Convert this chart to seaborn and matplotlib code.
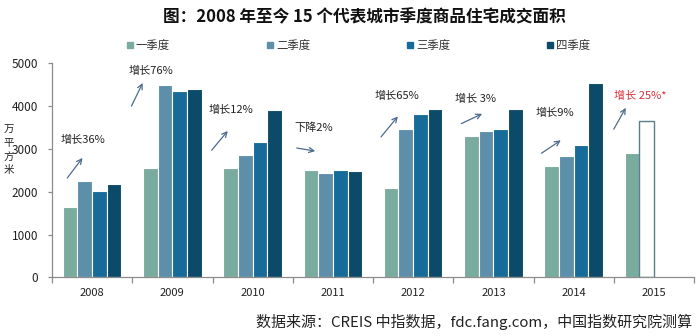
import numpy as np
import pandas as pd
import matplotlib
matplotlib.use("Agg")
import matplotlib.pyplot as plt
from matplotlib.lines import Line2D
import seaborn as sns

# ---- data ----
years = ["2008", "2009", "2010", "2011", "2012", "2013", "2014", "2015"]
quarters = ["一季度", "二季度", "三季度", "四季度"]
q1 = [1645, 2560, 2560, 2510, 2090, 3310, 2600, 2900]
q2 = [2250, 4490, 2860, 2440, 3460, 3420, 2840, 3650]
q3 = [2015, 4350, 3160, 2510, 3815, 3470, 3090, np.nan]
q4 = [2180, 4390, 3910, 2480, 3930, 3930, 4550, np.nan]
growth_labels = ["增长36%", "增长76%", "增长12%", "下降2%", "增长65%", "增长 3%", "增长9%", "增长 25%*"]
# annotation text / arrow anchor positions (category units, data units)
text_pos = [(-0.4, 3200), (0.45, 4830), (1.45, 3900), (2.52, 3490), (3.52, 4230), (4.52, 4160), (5.52, 3850), (6.5, 4230)]
arrow_tail = [(-0.31, 2320), (0.49, 4000), (1.49, 2970), (2.55, 3020), (3.6, 3280), (4.6, 3590), (5.6, 2900), (6.5, 3460)]
arrow_head = [(-0.12, 2790), (0.63, 4540), (1.69, 3420), (2.78, 2950), (3.81, 3760), (4.86, 3820), (5.84, 3200), (6.65, 3960)]
title = "图：2008 年至今 15 个代表城市季度商品住宅成交面积"
source = "数据来源：CREIS 中指数据，fdc.fang.com，中国指数研究院测算"
ylabel = "万\n平\n方\n米"

colors = ["#7aab9f", "#5d8fab", "#176b98", "#0b4a68"]

df = pd.DataFrame({
    "year": np.repeat(years, 4),
    "quarter": quarters * len(years),
    "value": np.array([q1, q2, q3, q4]).T.ravel(),
})

sns.set_theme(style="white")
plt.rcParams["font.family"] = ["Noto Sans CJK SC", "DejaVu Sans"]

fig = plt.figure(figsize=(6.99, 3.36), dpi=100)
ax = fig.add_axes([52 / 699, 1 - 277.3 / 336, (694 - 52) / 699, (277.3 - 63.3) / 336])

sns.barplot(data=df, x="year", y="value", hue="quarter", order=years, hue_order=quarters,
            palette=colors, width=0.73, gap=0, edgecolor="white", linewidth=0.8,
            saturation=1, ax=ax, legend=False, err_kws={"linewidth": 0})

# 2015 second quarter is an estimate: hollow bar
last = ax.containers[1].patches[-1]
last.set_facecolor("white")
last.set_edgecolor("#5a7f88")
last.set_linewidth(1.0)

ax.set_xlim(-0.5, len(years) - 0.5)
ax.set_ylim(0, 5000)
ax.set_yticks([0, 1000, 2000, 3000, 4000, 5000])
ax.set_xlabel("")
ax.set_ylabel("")
for s in ["top", "right"]:
    ax.spines[s].set_visible(False)
for s in ["left", "bottom"]:
    ax.spines[s].set_color("#8c8c8c")
    ax.spines[s].set_linewidth(0.9)
ax.tick_params(axis="x", which="major", length=0, labelsize=8, pad=8, labelcolor="#222222")
ax.set_xticks(np.arange(-0.5, len(years), 1.0), minor=True)
ax.tick_params(axis="x", which="minor", length=4, direction="out", color="#8c8c8c", width=0.9, bottom=True)
ax.tick_params(axis="y", length=3, direction="out", color="#8c8c8c", width=0.9, labelsize=8.5,
               labelcolor="#222222", left=True, pad=7)

for i, lab in enumerate(growth_labels):
    col = "#d9313a" if lab.endswith("*") else "#222222"
    ax.text(text_pos[i][0], text_pos[i][1], lab, fontsize=8, color=col, ha="left", va="center")
    ax.annotate("", xy=arrow_head[i], xytext=arrow_tail[i],
                arrowprops=dict(arrowstyle="->", color="#4d6b8c", lw=0.9,
                                shrinkA=0, shrinkB=0, patchA=None, patchB=None,
                                mutation_scale=9))

handles = [Line2D([], [], marker="s", linestyle="", color=c, markersize=4.5) for c in colors]
fig.legend(handles, quarters, loc="center", bbox_to_anchor=(358 / 699, 1 - 45 / 336), ncol=4,
           frameon=False, fontsize=8.2, handletextpad=0.1, columnspacing=8.4, handlelength=0.8,
           labelcolor="#333333")

fig.text(364 / 699, 1 - 17 / 336, title, ha="center", va="center", fontsize=12, fontweight="bold",
         color="#111111")
fig.text(692 / 699, 1 - 322 / 336, source, ha="right", va="center", fontsize=10.8, color="#222222")
fig.text(9 / 699, 1 - 150 / 336, ylabel, ha="center", va="center", fontsize=7.5, color="#222222",
         linespacing=1.45)

fig.savefig("out.png", dpi=100)
